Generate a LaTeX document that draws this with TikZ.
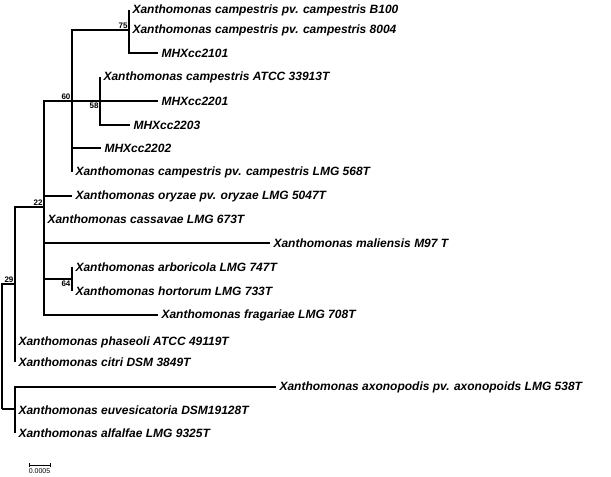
\documentclass[tikz,border=0pt]{standalone}
\usepackage{fontspec}
\setmainfont{Liberation Sans}
\begin{document}
\begin{tikzpicture}[x=1pt,y=-1pt,line width=1.1pt,
    taxon/.style={anchor=west,inner sep=3pt,font=\bfseries\itshape\fontsize{12}{14}\selectfont},
    boot/.style={inner sep=1pt,font=\bfseries\fontsize{8}{9}\selectfont}]
    \useasboundingbox (0,0) rectangle (611,477);
                % internal nodes
                \coordinate (root) at (2,409);
                \coordinate (n29) at (15,284);
                \coordinate (n22) at (44,207);
                \coordinate (n60) at (72,101);
                \coordinate (n75) at (129,30);
                \coordinate (n58) at (100,101);
                \coordinate (n64) at (72,279);
                \coordinate (nax) at (15,409);

                % leaves
                \node[taxon] (b100) at (129,10) {Xanthomonas campestris pv. campestris B100};
                \node[taxon] (x8004) at (129,30) {Xanthomonas campestris pv. campestris 8004};
                \node[taxon] (c2101) at (158,53) {MHXcc2101};
                \node[taxon] (atcc) at (100,77) {Xanthomonas campestris ATCC 33913T};
                \node[taxon] (c2201) at (158,101) {MHXcc2201};
                \node[taxon] (c2203) at (130,125) {MHXcc2203};
                \node[taxon] (c2202) at (101,148) {MHXcc2202};
                \node[taxon] (lmg568) at (72,172) {Xanthomonas campestris pv. campestris LMG 568T};
                \node[taxon] (oryzae) at (72,196) {Xanthomonas oryzae pv. oryzae LMG 5047T};
                \node[taxon] (cassavae) at (44,219) {Xanthomonas cassavae LMG 673T};
                \node[taxon] (maliensis) at (270,243) {Xanthomonas maliensis M97 T};
                \node[taxon] (arbor) at (72,267) {Xanthomonas arboricola LMG 747T};
                \node[taxon] (hortorum) at (72,291) {Xanthomonas hortorum LMG 733T};
                \node[taxon] (fragariae) at (158,315) {Xanthomonas fragariae LMG 708T};
                \node[taxon] (phaseoli) at (15,342) {Xanthomonas phaseoli ATCC 49119T};
                \node[taxon] (citri) at (15,362) {Xanthomonas citri DSM 3849T};
                \node[taxon] (axono) at (276,387) {Xanthomonas axonopodis pv. axonopoids LMG 538T};
                \node[taxon] (euves) at (15,410) {Xanthomonas euvesicatoria DSM19128T};
                \node[taxon] (alfalfae) at (15,433) {Xanthomonas alfalfae LMG 9325T};

                % branches
                \draw (root) |- (n29);
                \draw (root) |- (nax);
                \draw (n29) |- (n22);
                \draw (n29) |- (phaseoli.west);
                \draw (n29) |- (citri.west);
                \draw (n22) |- (n60);
                \draw (n22) |- (oryzae.west);
                \draw (n22) |- (cassavae.west);
                \draw (n22) |- (maliensis.west);
                \draw (n22) |- (n64);
                \draw (n22) |- (fragariae.west);
                \draw (n60) |- (n75);
                \draw (n60) -- (n58);
                \draw (n60) |- (c2202.west);
                \draw (n60) |- (lmg568.west);
                \draw (n75) |- (b100.west);
                \draw (n75) |- (c2101.west);
                \draw (n58) |- (atcc.west);
                \draw (n58) -- (c2201.west);
                \draw (n58) |- (c2203.west);
                \draw (n64) |- (arbor.west);
                \draw (n64) |- (hortorum.west);
                \draw (nax) |- (axono.west);
                \draw (nax) |- (alfalfae.west);

                % bootstrap values
                \node[boot,anchor=south east] (b75) at (n75) {75};
                \node[boot,anchor=south east] (b60) at (n60) {60};
                \node[boot,anchor=north east] (b58) at (n58) {58};
                \node[boot,anchor=south east] (b22) at (n22) {22};
                \node[boot,anchor=north east] (b64) at (n64) {64};
                \node[boot,anchor=south east] (b29) at (n29) {29};

                % scale bar
                \coordinate (sa) at (29,465);
                \coordinate (sb) at (50,465);
                \draw[line width=0.8pt] (sa) -- (sb);
                \draw[line width=0.8pt] ([yshift=-2]sa) -- ([yshift=2]sa);
                \draw[line width=0.8pt] ([yshift=-2]sb) -- ([yshift=2]sb);
                \node[boot,anchor=north,font=\fontsize{7}{8}\selectfont] (scale) at (39.5,467) {0.0005};
\end{tikzpicture}
\end{document}
